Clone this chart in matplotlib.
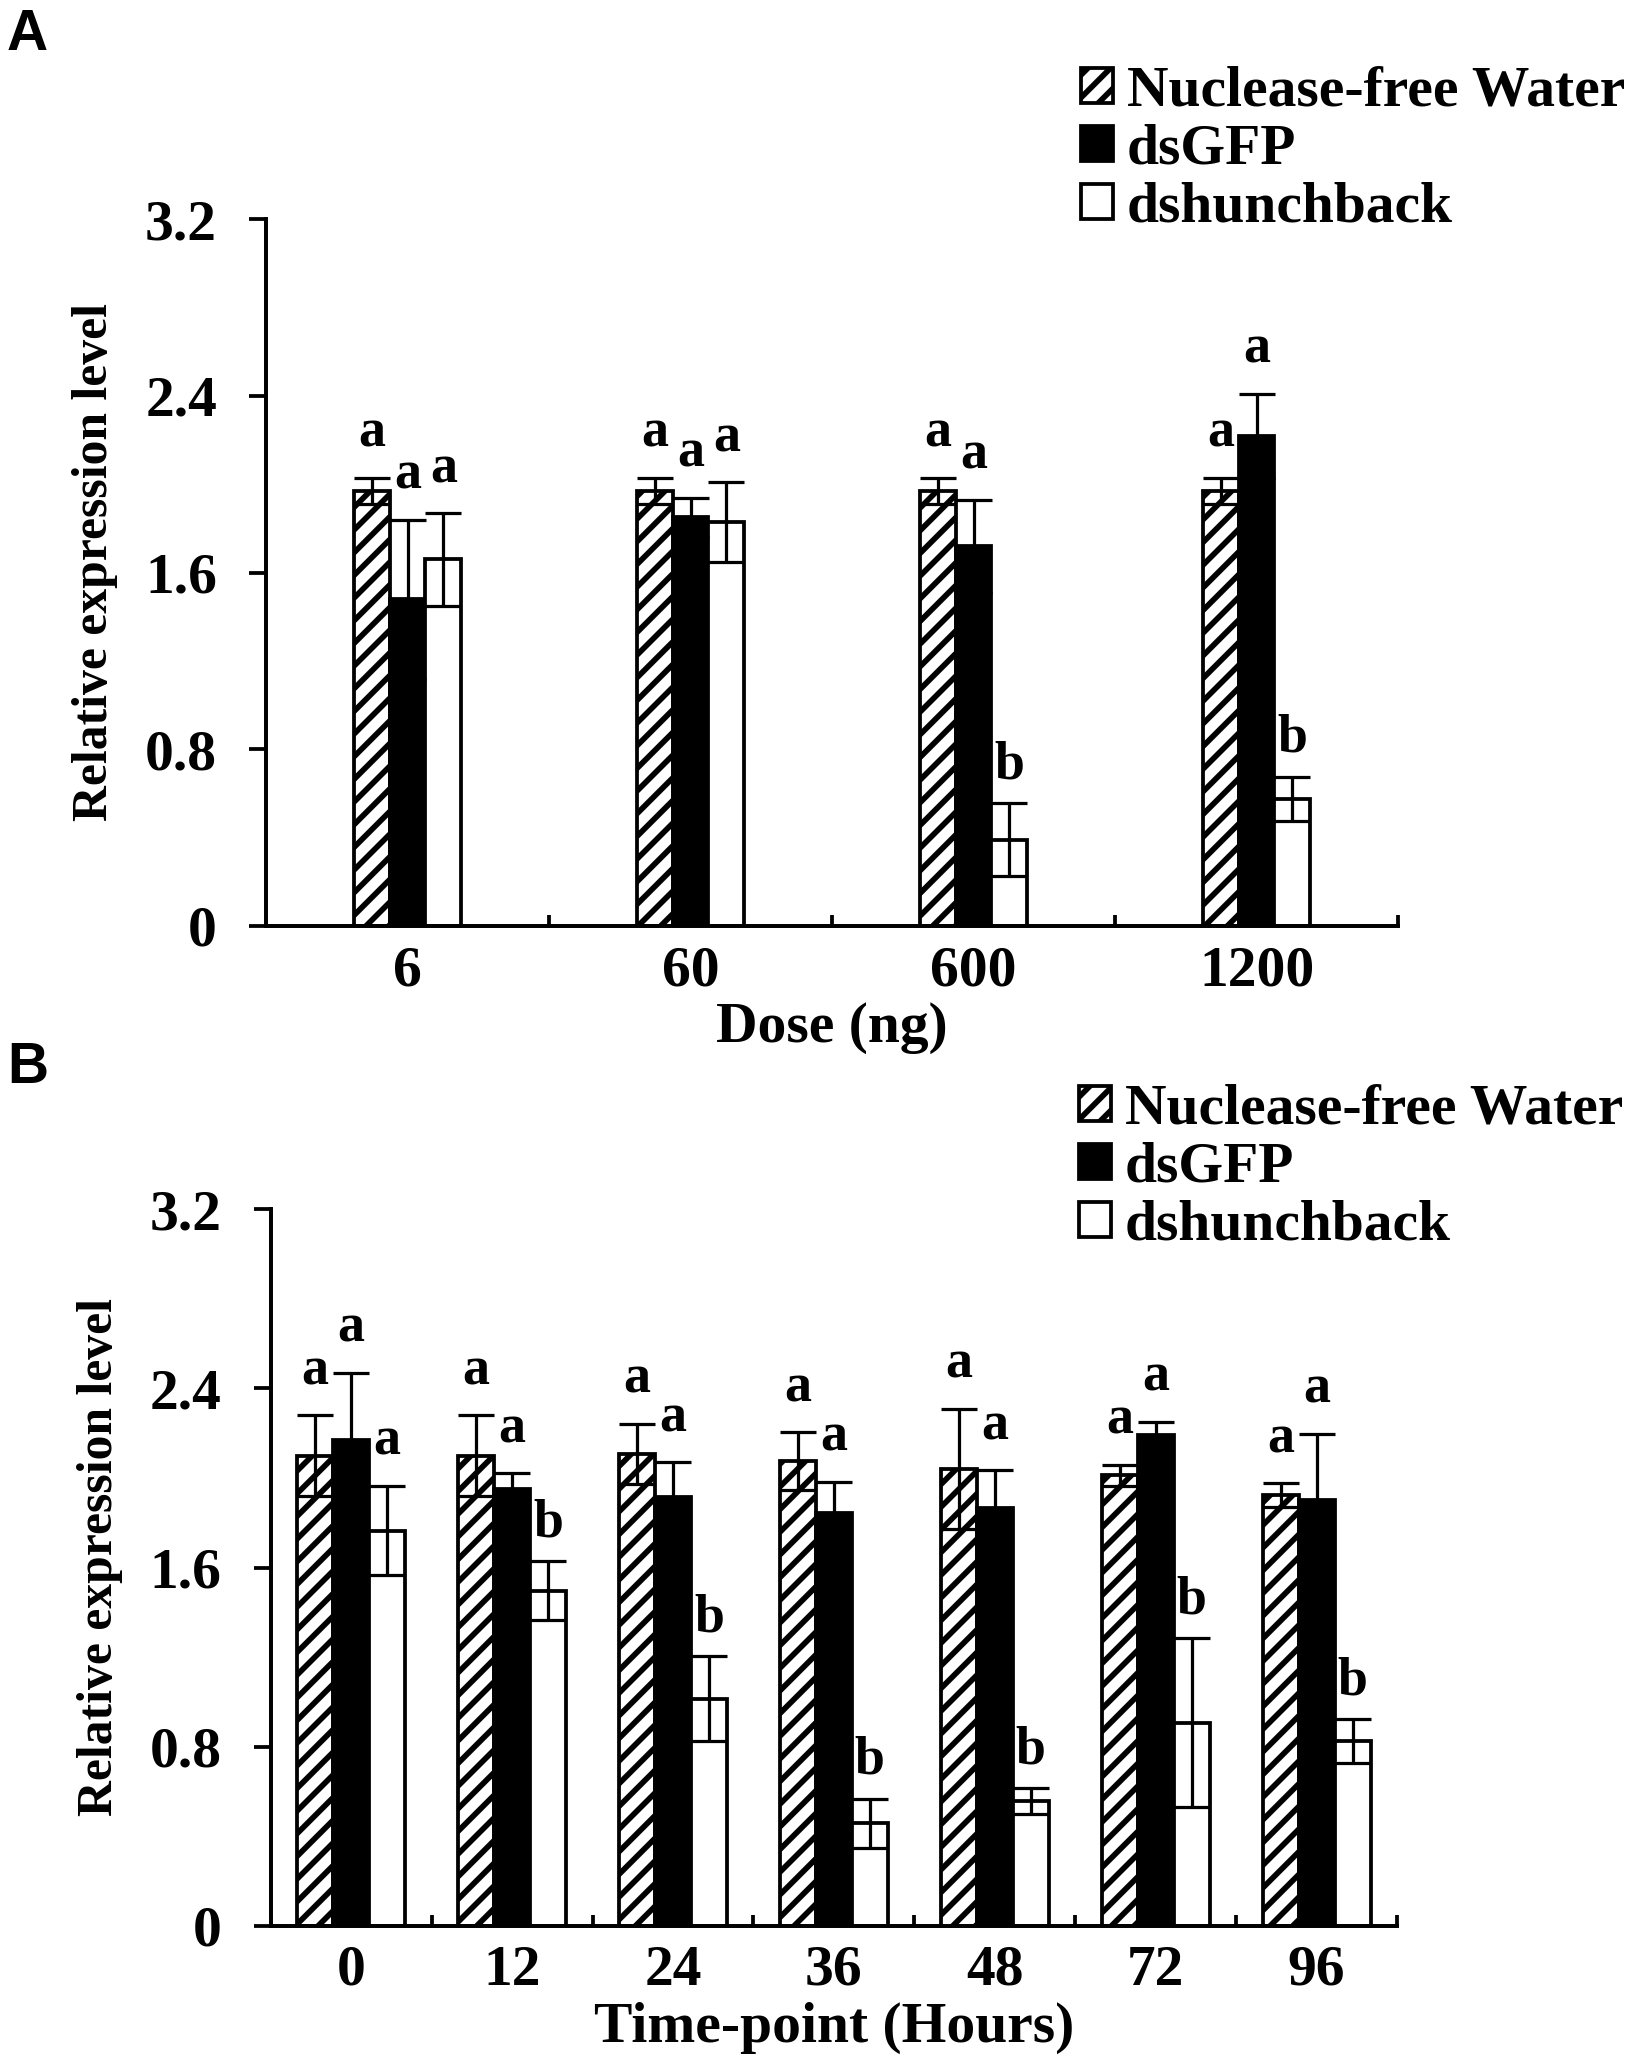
import numpy as np
import matplotlib
matplotlib.use('Agg')
import matplotlib.pyplot as plt

DPI = 136
plt.rcParams['font.family'] = ['Liberation Serif', 'DejaVu Serif']
plt.rcParams['font.weight'] = 'bold'
plt.rcParams['hatch.linewidth'] = 3.0
plt.rcParams['hatch.color'] = 'black'

# ---- data ----
groups = ['Nuclease-free Water', 'dsGFP', 'dshunchback']

dose_labels = ['6', '60', '600', '1200']
dose_water = [1.97, 1.97, 1.97, 1.97]
dose_water_err = [0.06, 0.06, 0.06, 0.06]
dose_gfp = [1.48, 1.85, 1.72, 2.22]
dose_gfp_err = [0.36, 0.09, 0.21, 0.19]
dose_hb = [1.66, 1.83, 0.39, 0.575]
dose_hb_err = [0.21, 0.18, 0.165, 0.10]
dose_letters_water = ['a', 'a', 'a', 'a']
dose_letters_gfp = ['a', 'a', 'a', 'a']
dose_letters_hb = ['a', 'a', 'b', 'b']

time_labels = ['0', '12', '24', '36', '48', '72', '96']
time_water = [2.10, 2.10, 2.107, 2.074, 2.04, 2.012, 1.924]
time_water_err = [0.18, 0.18, 0.135, 0.13, 0.27, 0.047, 0.053]
time_gfp = [2.17, 1.95, 1.915, 1.844, 1.865, 2.19, 1.903]
time_gfp_err = [0.30, 0.07, 0.156, 0.14, 0.17, 0.06, 0.295]
time_hb = [1.765, 1.497, 1.013, 0.457, 0.557, 0.907, 0.825]
time_hb_err = [0.20, 0.13, 0.19, 0.11, 0.056, 0.377, 0.097]
time_letters_water = ['a'] * 7
time_letters_gfp = ['a'] * 7
time_letters_hb = ['a', 'b', 'b', 'b', 'b', 'b', 'b']

yticks = [0, 0.8, 1.6, 2.4, 3.2]
ytick_labels = ['0', '0.8', '1.6', '2.4', '3.2']

styles = [dict(color='white', edgecolor='black', hatch='//'),
          dict(color='black', edgecolor='black'),
          dict(color='white', edgecolor='black')]


def px(p):
    # pixels -> points
    return p * 72.0 / DPI


TICK_FS = px(57.5)
LETTER_FS = px(54)
YLAB_FS = px(49.6)


def draw_panel(ax, labels, series, errs, letters, width, xlabel, ylab_y):
    x = np.arange(len(labels))
    offsets = [-width, 0, width]
    for vals, err, lets, off, st, name in zip(series, errs, letters, offsets, styles, groups):
        ax.bar(x + off, vals, width=width, linewidth=2.0, label=name, zorder=2, **st)
        ax.errorbar(x + off, vals, yerr=err, fmt='none', ecolor='black',
                    elinewidth=1.7, capsize=px(18), capthick=1.7, zorder=3)
        for xi, v, e, t in zip(x + off, vals, err, lets):
            shift = 44 if t == 'a' else 38
            ax.annotate(t, (xi, v + e), xytext=(0, px(shift)), textcoords='offset points',
                        ha='center', va='center', fontsize=LETTER_FS, fontweight='bold')

    ax.set_xlim(-0.5, len(labels) - 0.5)
    ax.set_ylim(0, 3.2)
    ax.set_yticks(yticks)
    ax.set_yticklabels(ytick_labels)
    ax.set_xticks(x)
    ax.set_xticklabels(labels)
    ax.set_xticks(np.arange(len(labels)) + 0.5, minor=True)
    ax.tick_params(axis='x', which='major', length=0, pad=px(19), labelsize=TICK_FS)
    ax.tick_params(axis='x', which='minor', direction='in', length=px(11), width=2.0)
    ax.tick_params(axis='y', direction='out', length=px(17), width=2.0,
                   pad=px(32), labelsize=TICK_FS)
    for s in ['top', 'right']:
        ax.spines[s].set_visible(False)
    for s in ['left', 'bottom']:
        ax.spines[s].set_linewidth(2.1)

    ax.set_xlabel(xlabel, fontsize=TICK_FS, fontweight='bold', labelpad=px(5))
    ax.set_ylabel('Relative expression level', fontsize=YLAB_FS, fontweight='bold')
    ax.yaxis.set_label_coords(-0.131, ylab_y)


fig = plt.figure(figsize=(1641 / DPI, 2066 / DPI), dpi=DPI)
W, H = 1641.0, 2066.0

axA = fig.add_axes([266 / W, 1 - 926 / H, (1398 - 266) / W, 706.7 / H])
draw_panel(axA, dose_labels, [dose_water, dose_gfp, dose_hb],
           [dose_water_err, dose_gfp_err, dose_hb_err],
           [dose_letters_water, dose_letters_gfp, dose_letters_hb],
           0.127, 'Dose (ng)', 0.515)

axB = fig.add_axes([270.7 / W, 1 - 1925.7 / H, (1397 - 270.7) / W, 716.4 / H])
draw_panel(axB, time_labels, [time_water, time_gfp, time_hb],
           [time_water_err, time_gfp_err, time_hb_err],
           [time_letters_water, time_letters_gfp, time_letters_hb],
           0.2236, 'Time-point (Hours)', 0.515)

for ax, top, left in [(axA, 66, 1081), (axB, 1084, 1079)]:
    ax.legend(loc='upper left', bbox_to_anchor=(left / W, 1 - top / H),
              bbox_transform=fig.transFigure, frameon=False, fontsize=TICK_FS,
              handlelength=0.557, handleheight=0.557, handletextpad=0.24,
              labelspacing=0.1, borderpad=0, borderaxespad=0,
              prop={'weight': 'bold', 'size': TICK_FS})

fig.text(7 / W, 1 - 8 / H, 'A', family='Liberation Sans', fontweight='bold',
         fontsize=px(57), ha='left', va='top')
fig.text(7 / W, 1 - 1041 / H, 'B', family='Liberation Sans', fontweight='bold',
         fontsize=px(57), ha='left', va='top')

fig.savefig('out.png', dpi=DPI)
